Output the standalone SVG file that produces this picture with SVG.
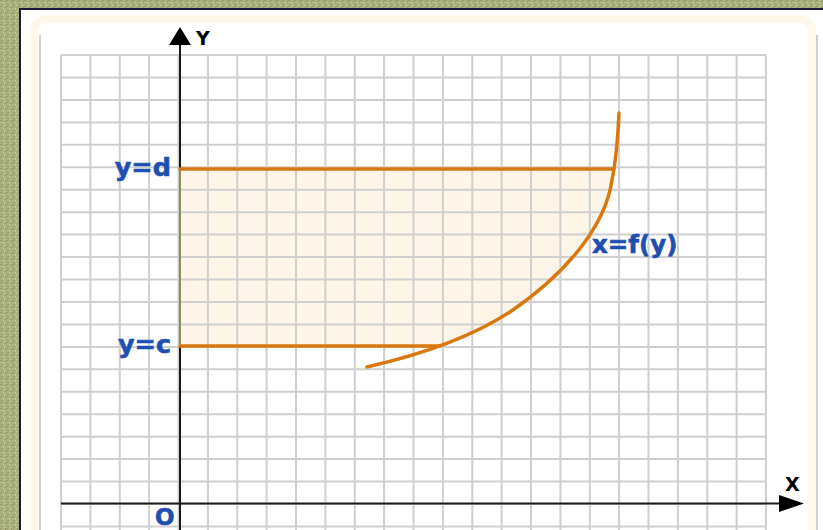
<svg xmlns="http://www.w3.org/2000/svg" width="823" height="530" viewBox="0 0 823 530">
<defs>
<pattern id="tex" x="0" y="0" width="6" height="6" patternUnits="userSpaceOnUse">
<rect width="6" height="6" fill="#abb27f"/>
<rect x="0" y="0" width="2" height="1" fill="#919966"/>
<rect x="3" y="2" width="1" height="2" fill="#c6cb9d"/>
<rect x="1" y="4" width="2" height="1" fill="#98a06d"/>
<rect x="4" y="5" width="1" height="1" fill="#cbcfa5"/>
<rect x="5" y="1" width="1" height="1" fill="#8d9563"/>
</pattern>
<clipPath id="band"><rect x="180" y="169" width="450" height="177"/></clipPath>
</defs>
<style>
.grid line{stroke:#cfcfcf;stroke-width:2}
.axis{stroke:#1a1a1a;stroke-width:2;fill:none}
.or{stroke:#d9780e;stroke-width:3.5;fill:none;stroke-linecap:round}
.lbl{font-family:"DejaVu Sans",Verdana,sans-serif;font-weight:bold;fill:#1e4fb0;stroke:#1e4fb0;stroke-width:0.6}
.ax{font-family:"DejaVu Sans",Verdana,sans-serif;font-weight:bold;fill:#000}
</style>
<rect width="823" height="530" fill="url(#tex)"/>
<rect x="19" y="8" width="810" height="530" fill="#1c1a3c"/>
<rect x="21" y="10" width="810" height="530" fill="#fff"/>
<rect x="34" y="19" width="778" height="530" rx="12" fill="#fff" stroke="#fef8ea" stroke-width="8"/>
<line x1="40" y1="35" x2="40" y2="530" stroke="#d0d0d0" stroke-width="2"/>
<line x1="817" y1="35" x2="817" y2="530" stroke="#d0d0d0" stroke-width="2"/>

<g id="region">
<path clip-path="url(#band)" fill="#fdf6e8" d="M367,367 C420,355 470,338 510,312 C560,278 605,230 612,180 C616,160 618,135 619,113 L180,113 L180,367 Z"/>
</g>

<g class="grid" id="grid">
<line x1="61" y1="55" x2="61" y2="530"/><line x1="90.4" y1="55" x2="90.4" y2="530"/><line x1="119.8" y1="55" x2="119.8" y2="530"/><line x1="149.1" y1="55" x2="149.1" y2="530"/><line x1="178.5" y1="55" x2="178.5" y2="530"/><line x1="207.9" y1="55" x2="207.9" y2="530"/><line x1="237.3" y1="55" x2="237.3" y2="530"/><line x1="266.6" y1="55" x2="266.6" y2="530"/><line x1="296" y1="55" x2="296" y2="530"/><line x1="325.4" y1="55" x2="325.4" y2="530"/><line x1="354.8" y1="55" x2="354.8" y2="530"/><line x1="384.1" y1="55" x2="384.1" y2="530"/><line x1="413.5" y1="55" x2="413.5" y2="530"/><line x1="442.9" y1="55" x2="442.9" y2="530"/><line x1="472.3" y1="55" x2="472.3" y2="530"/><line x1="501.6" y1="55" x2="501.6" y2="530"/><line x1="531" y1="55" x2="531" y2="530"/><line x1="560.4" y1="55" x2="560.4" y2="530"/><line x1="589.8" y1="55" x2="589.8" y2="530"/><line x1="619.1" y1="55" x2="619.1" y2="530"/><line x1="648.5" y1="55" x2="648.5" y2="530"/><line x1="677.9" y1="55" x2="677.9" y2="530"/><line x1="707.3" y1="55" x2="707.3" y2="530"/><line x1="736.6" y1="55" x2="736.6" y2="530"/><line x1="766" y1="55" x2="766" y2="530"/>
<line x1="61" y1="55" x2="766" y2="55"/><line x1="61" y1="77.5" x2="766" y2="77.5"/><line x1="61" y1="99.9" x2="766" y2="99.9"/><line x1="61" y1="122.4" x2="766" y2="122.4"/><line x1="61" y1="144.8" x2="766" y2="144.8"/><line x1="61" y1="167.3" x2="766" y2="167.3"/><line x1="61" y1="189.7" x2="766" y2="189.7"/><line x1="61" y1="212.2" x2="766" y2="212.2"/><line x1="61" y1="234.6" x2="766" y2="234.6"/><line x1="61" y1="257.1" x2="766" y2="257.1"/><line x1="61" y1="279.5" x2="766" y2="279.5"/><line x1="61" y1="302" x2="766" y2="302"/><line x1="61" y1="324.4" x2="766" y2="324.4"/><line x1="61" y1="346.9" x2="766" y2="346.9"/><line x1="61" y1="369.3" x2="766" y2="369.3"/><line x1="61" y1="391.8" x2="766" y2="391.8"/><line x1="61" y1="414.2" x2="766" y2="414.2"/><line x1="61" y1="436.7" x2="766" y2="436.7"/><line x1="61" y1="459.1" x2="766" y2="459.1"/><line x1="61" y1="481.6" x2="766" y2="481.6"/><line x1="61" y1="504" x2="766" y2="504"/><line x1="61" y1="526.5" x2="766" y2="526.5"/>
</g>

<g id="axes">
<line class="axis" x1="180" y1="44" x2="180" y2="530"/>
<path d="M180,27 L191,45 L169,45 Z" fill="#000"/>
<line class="axis" x1="61" y1="503.5" x2="781" y2="503.5"/>
<path d="M804,503.5 L779,495 L779,512 Z" fill="#000"/>
<line x1="180" y1="169" x2="180" y2="346" stroke="#8c8c58" stroke-width="2"/>
</g>

<g id="connectors">
<line class="or" x1="180" y1="169" x2="614" y2="169"/>
<line class="or" x1="180" y1="346" x2="440" y2="346"/>
<path class="or" d="M367,367 C420,355 470,338 510,312 C560,278 605,230 612,180 C616,160 618,135 619,113"/>
</g>

<g id="labels">
<text class="ax" x="196" y="45" font-size="19">Y</text>
<text class="ax" x="785" y="491" font-size="19">X</text>
<text class="lbl" x="171" y="176" font-size="25.5" text-anchor="end">y=d</text>
<text class="lbl" x="171" y="353" font-size="25.5" text-anchor="end">y=c</text>
<text class="lbl" x="592" y="253" font-size="24.5">x=f(y)</text>
<text class="lbl" x="155" y="525" font-size="23">O</text>
</g>
</svg>
